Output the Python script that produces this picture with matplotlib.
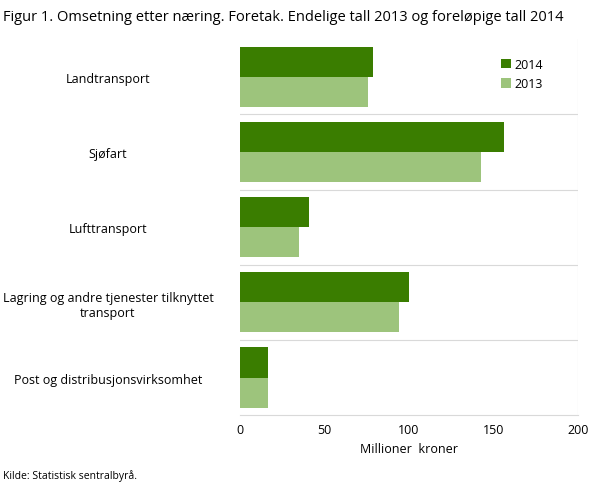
import matplotlib.pyplot as plt
import numpy as np

categories = ["Landtransport", "Sjøfart", "Lufttransport",
              "Lagring og andre tjenester tilknyttet\ntransport", "Post og distribusjonsvirksomhet"]
v2014 = [79, 156, 41, 100, 16.5]
v2013 = [76, 142.5, 35, 94, 16.5]

plt.rcParams['font.family'] = ['Open Sans', 'DejaVu Sans']
fig = plt.figure(figsize=(6.09, 4.89), dpi=100)
ax = fig.add_axes([0.394, 0.149, 0.555, 0.769])
y = np.arange(len(categories))
h = 0.4
ax.barh(y - h/2, v2014, height=h, color='#3a7d00', label='2014')
ax.barh(y + h/2, v2013, height=h, color='#9dc47c', label='2013')
ax.set_ylim(len(categories) - 0.5, -0.5)
ax.set_xlim(0, 200)
ax.set_yticks(y)
ax.set_yticklabels(categories, fontsize=9, ha='center')
ax.tick_params(axis='y', length=0, pad=95)
ax.set_xticks([0, 50, 100, 150, 200])
ax.tick_params(axis='x', length=0, labelsize=9, pad=6)
for b in np.arange(0.5, len(categories) - 1, 1):
    ax.axhline(b, color='#d9d9d9', lw=0.8)
ax.axvline(200, color='#d9d9d9', lw=0.8)
for s in ['top', 'right', 'left']:
    ax.spines[s].set_visible(False)
ax.spines['bottom'].set_color('#d9d9d9')
ax.set_xlabel('Millioner  kroner', fontsize=9)
ax.legend(loc='upper right', bbox_to_anchor=(0.93, 0.98), frameon=False, fontsize=9,
          handlelength=0.8, handleheight=0.8, handletextpad=0.3)
fig.text(0.005, 0.965, 'Figur 1. Omsetning etter næring. Foretak. Endelige tall 2013 og foreløpige tall 2014',
         fontsize=10.5, va='center')
fig.text(0.005, 0.02, 'Kilde: Statistisk sentralbyrå.', fontsize=7.5)
fig.savefig('out.png', dpi=100)
